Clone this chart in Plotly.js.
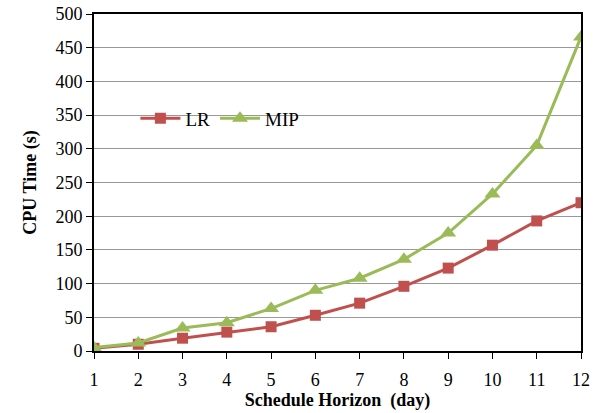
<!DOCTYPE html>
<html><head><meta charset="utf-8">
<script src="https://cdn.plot.ly/plotly-3.0.1.min.js"></script>
<style>html,body{margin:0;padding:0;background:#fff}#c{width:600px;height:413px}</style>
</head><body><div id="c"></div>
<script>
const days = [1,2,3,4,5,6,7,8,9,10,11,12];
const lrTime = [4,10,19,28,36,53,71,96,123,157,193,220];
const mipTime = [5,12,34,42,63,90,108,136,175,233,305,466];
const yTicks = [0,50,100,150,200,250,300,350,400,450,500];

const traces = [
  {x: days, y: lrTime, name: 'LR', type: 'scatter', mode: 'lines+markers',
   line: {color: '#C0504D', width: 3}, marker: {symbol: 'square', size: 11, color: '#C0504D'}},
  {x: days, y: mipTime, name: 'MIP', type: 'scatter', mode: 'lines+markers',
   line: {color: '#9BBB59', width: 3}, marker: {symbol: 'triangle-up', size: 14, color: '#9BBB59'}}
];
const layout = {
  width: 600, height: 413,
  margin: {l: 94, r: 19, t: 14, b: 62},
  paper_bgcolor: '#fff', plot_bgcolor: '#fff',
  font: {family: 'Liberation Serif, Times New Roman, serif', color: '#000', size: 18},
  showlegend: true,
  legend: {orientation: 'h', x: 0.085, y: 0.69, xanchor: 'left', yanchor: 'middle',
           font: {size: 19}, bgcolor: 'rgba(0,0,0,0)', itemwidth: 40},
  xaxis: {range: [1, 12], tickvals: days, ticktext: days.map(String),
          showline: true, linecolor: '#000', linewidth: 2, mirror: true,
          ticks: 'outside', ticklen: 6, tickcolor: '#000', showgrid: false, zeroline: false,
          tickfont: {size: 18}, ticklabelstandoff: 5,
          title: {text: '<b>Schedule Horizon  (day)</b>', font: {size: 18}, standoff: 0}},
  yaxis: {range: [0, 500], tickvals: yTicks, ticktext: yTicks.map(String),
          showline: true, linecolor: '#000', linewidth: 2, mirror: true,
          ticks: 'outside', ticklen: 6, tickcolor: '#000',
          showgrid: true, gridcolor: '#999', gridwidth: 1, zeroline: false,
          tickfont: {size: 18},
          title: {text: '<b>CPU Time (s)</b>', font: {size: 18}, standoff: 14}}
};
Plotly.newPlot('c', traces, layout, {displayModeBar: false, staticPlot: true});
</script></body></html>
